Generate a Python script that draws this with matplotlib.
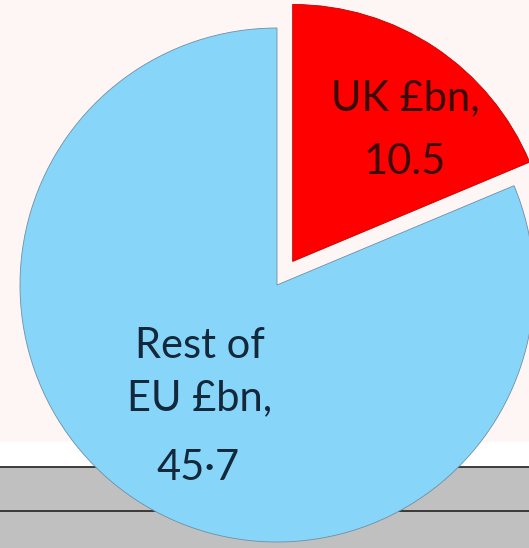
import matplotlib
matplotlib.use("Agg")
from matplotlib import pyplot as plt

# data
regions = ["UK £bn,", "Rest of\nEU £bn,"]
values = [10.5, 45.7]
value_labels = ["10.5", "45·7"]
colors = ["#ff0000", "#87d6fa"]
text_colors = ["#3a0a0a", "#14283c"]

W, H = 529, 548
R = 257
fig = plt.figure(figsize=(W / 100, H / 100), dpi=100)
fig.patch.set_facecolor("#fdf6f5")
ax = fig.add_axes([0, 0, 1, 1])
ax.set_facecolor("#fdf6f5")

# slide background bands (y measured from the bottom)
ax.axhspan(H - 467, H - 442, color="white", zorder=0)
ax.axhspan(0, H - 467, color="#c0c0c0", zorder=0)
ax.axhline(H - 467, color="#222222", lw=1.2, zorder=0.5)
ax.axhline(H - 511, color="#222222", lw=1.2, zorder=0.5)

# explode is in data units here (radius isn't 1)
wedges, _ = ax.pie(values, colors=colors, startangle=90, counterclock=False,
                   explode=[0.11 * R, 0], center=(277, H - 285), radius=R,
                   frame=True,
                   wedgeprops=dict(edgecolor="#6f8fa5", linewidth=0.6))
for w in wedges:
    w.set_zorder(2)
wedges[0].set_edgecolor("#c00000")

ax.text(405, H - 98, regions[0], ha="center", va="center", fontsize=30,
        family="Lato", color=text_colors[0], zorder=3)
ax.text(405, H - 162, value_labels[0], ha="center", va="center", fontsize=30,
        family="Lato", color=text_colors[0], zorder=3)
ax.text(200, H - 372, regions[1], ha="center", va="center", fontsize=30,
        family="Lato", color=text_colors[1], linespacing=1.45, zorder=3)
ax.text(198, H - 468, value_labels[1], ha="center", va="center", fontsize=30,
        family="Lato", color=text_colors[1], zorder=3)

ax.set_xlim(0, W)
ax.set_ylim(0, H)
ax.set_aspect("auto")
ax.axis("off")

fig.savefig("out.png", dpi=100, facecolor=fig.get_facecolor())
